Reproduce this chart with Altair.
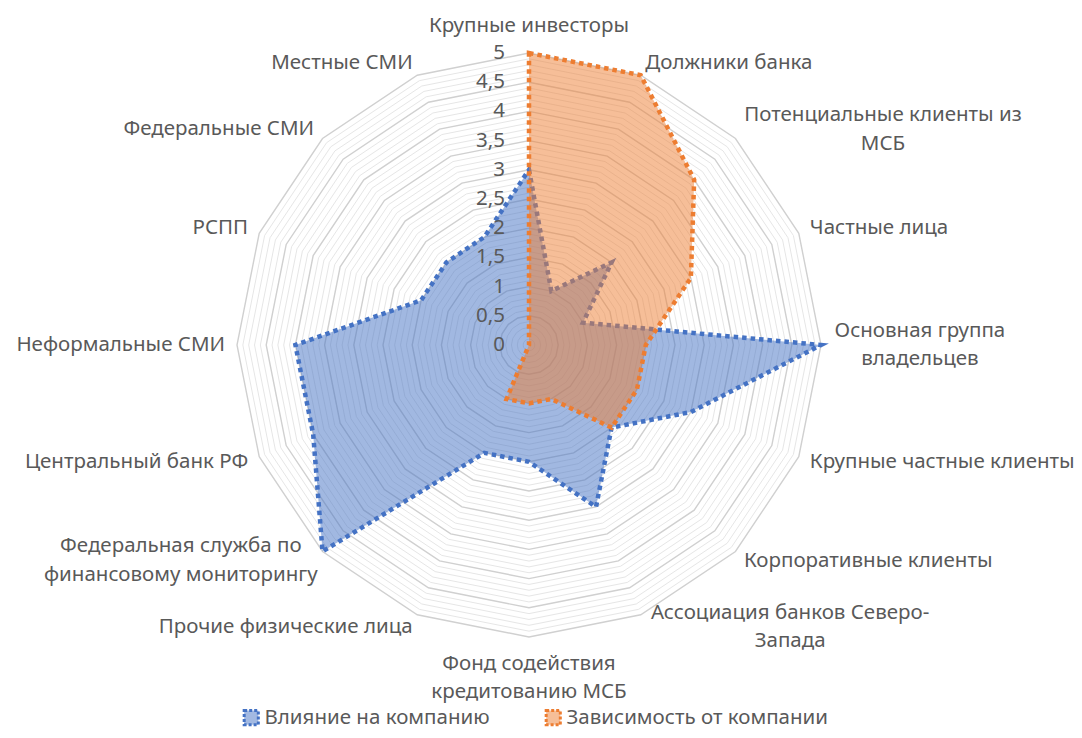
import altair as alt
import numpy as np
import pandas as pd

# ---------------- data ----------------
categories = [
    "Крупные инвесторы", "Должники банка", "Потенциальные клиенты из МСБ",
    "Частные лица", "Основная группа владельцев", "Крупные частные клиенты",
    "Корпоративные клиенты", "Ассоциация банков Северо-Запада",
    "Фонд содействия кредитованию МСБ", "Прочие физические лица",
    "Федеральная служба по финансовому мониторингу", "Центральный банк РФ",
    "Неформальные СМИ", "РСПП", "Федеральные СМИ", "Местные СМИ",
]
label_lines = [
    ["Крупные инвесторы"], ["Должники банка"], ["Потенциальные клиенты из", "МСБ"],
    ["Частные лица"], ["Основная группа", "владельцев"], ["Крупные частные клиенты"],
    ["Корпоративные клиенты"], ["Ассоциация банков Северо-", "Запада"],
    ["Фонд содействия", "кредитованию МСБ"], ["Прочие физические лица"],
    ["Федеральная служба по", "финансовому мониторингу"], ["Центральный банк РФ"],
    ["Неформальные СМИ"], ["РСПП"], ["Федеральные СМИ"], ["Местные СМИ"],
]
influence = [3, 1, 2, 1, 5, 3, 2, 3, 2, 2, 5, 4, 4, 2, 2, 2]
dependence = [5, 5, 4, 3, 2, 2, 2, 1, 1, 1, 0, 0, 0, 0, 0, 0]
series_names = ["Влияние на компанию", "Зависимость от компании"]
tick_values = [0, 0.5, 1, 1.5, 2, 2.5, 3, 3.5, 4, 4.5, 5]
tick_labels = ["0", "0,5", "1", "1,5", "2", "2,5", "3", "3,5", "4", "4,5", "5"]

# ---------------- layout / style ----------------
FONT = "Noto Sans"
FS = 20.5
TXT = "#595959"
BLUE, ORANGE = "#4472C4", "#ED7D31"
BLUE_T, ORANGE_T = "#A2B9E2", "#F6BE98"
W, H = 1066, 722
U = 58.4                      # pixels per unit
CX, CY = 521, 337             # centre inside plot area
CW = 0.565 * FS               # rough char width for centring multi-line labels
LH = 28.5

xdom = [-CX / U, (W - CX) / U]
ydom = [-(H - CY) / U, CY / U]
xs = alt.Scale(domain=xdom, nice=False, zero=False)
ys = alt.Scale(domain=ydom, nice=False, zero=False)
N = len(categories)
ang = np.arange(N) * 2 * np.pi / N


def poly(vals):
    v = np.asarray(vals, float)
    return pd.DataFrame({"i": np.arange(N), "x": v * np.sin(ang), "y": v * np.cos(ang)})


X = alt.X("x:Q", scale=xs, axis=None)
Y = alt.Y("y:Q", scale=ys, axis=None)

# grid polygons
levels = np.round(np.arange(1, 51) * 0.1, 1)
g = []
for lv in levels:
    d = poly([lv] * N)
    d["lv"] = lv
    d["major"] = abs(lv * 2 - round(lv * 2)) < 1e-9
    g.append(d)
grid = pd.concat(g)
minor = alt.Chart(grid[~grid.major]).mark_line(
    interpolate="linear-closed", color="#e6e6e6", strokeWidth=1
).encode(x=X, y=Y, detail="lv:N", order="i:Q")
major = alt.Chart(grid[grid.major]).mark_line(
    interpolate="linear-closed", color="#d0d0d0", strokeWidth=1.4
).encode(x=X, y=Y, detail="lv:N", order="i:Q")


def series_layer(vals, stroke, name):
    d = poly(vals)
    d["series"] = name
    return alt.Chart(d).mark_line(
        interpolate="linear-closed", fill=stroke, fillOpacity=0.5, stroke=stroke,
        strokeWidth=4.5, strokeDash=[4.5, 4], strokeCap="butt"
    ).encode(x=X, y=Y, order="i:Q")


blue = series_layer(influence, BLUE, series_names[0])
orange = series_layer(dependence, ORANGE, series_names[1])

# axis tick labels
ticks = pd.DataFrame({"x": 0.0, "y": tick_values, "t": tick_labels})
tick_text = alt.Chart(ticks).mark_text(
    align="right", baseline="middle", dx=-24, font=FONT, fontSize=FS, color=TXT
).encode(x=X, y=Y, text="t:N")

# category labels
rows = []
for i, lines in enumerate(label_lines):
    s, c = np.sin(ang[i]), np.cos(ang[i])
    n = len(lines)
    vx, vy = 5 * s, 5 * c
    if abs(s) < 1e-6:
        al = "center"
        x = 0.0
        y = vy + np.sign(c) * (13 + 14 * n) / U
    else:
        y = vy + c * 13 / U
        pad = 12 * abs(s)
        if n == 1:
            al = "left" if s > 0 else "right"
            x = vx + np.sign(s) * pad / U
        else:
            al = "center"
            w = max(len(t) for t in lines) * CW
            x = vx + np.sign(s) * (pad + w / 2) / U
    y += (n - 1) * LH / 2 / U          # first line sits above the block centre
    rows.append({"x": x, "y": y, "t": "\n".join(lines), "al": al})
labs = pd.DataFrame(rows)


def lab_layer(al):
    return alt.Chart(labs[labs.al == al]).mark_text(
        align=al, baseline="middle", font=FONT, fontSize=FS, color=TXT,
        lineBreak="\n", lineHeight=LH
    ).encode(x=X, y=Y, text="t:N")


# legend via hidden (clipped) points
leg = pd.DataFrame({"series": series_names, "x": [xdom[1] + 5] * 2, "y": [0, 0]})
legend = alt.Legend(
    orient="none", legendX=233, legendY=699, direction="horizontal", title=None,
    labelFont=FONT, labelFontSize=FS, labelColor=TXT, symbolType="square",
    symbolSize=200, symbolStrokeWidth=3, symbolDash=[3, 2], labelOffset=3,
    columnPadding=50, labelLimit=400,
)
leg_layer = alt.Chart(leg).mark_point(shape="square", clip=True, opacity=1).encode(
    x=X, y=Y,
    fill=alt.Fill("series:N", scale=alt.Scale(domain=series_names, range=[BLUE_T, ORANGE_T]), legend=legend),
    stroke=alt.Stroke("series:N", scale=alt.Scale(domain=series_names, range=[BLUE, ORANGE]), legend=legend),
)

chart = alt.layer(
    minor, major, blue, orange, tick_text,
    lab_layer("left"), lab_layer("right"), lab_layer("center"), leg_layer
).properties(
    width=W, height=H, padding=0, autosize=alt.AutoSizeParams(type="none")
).configure_view(stroke=None)

chart.save("out.html", embed_options={"renderer": "svg", "actions": False})
